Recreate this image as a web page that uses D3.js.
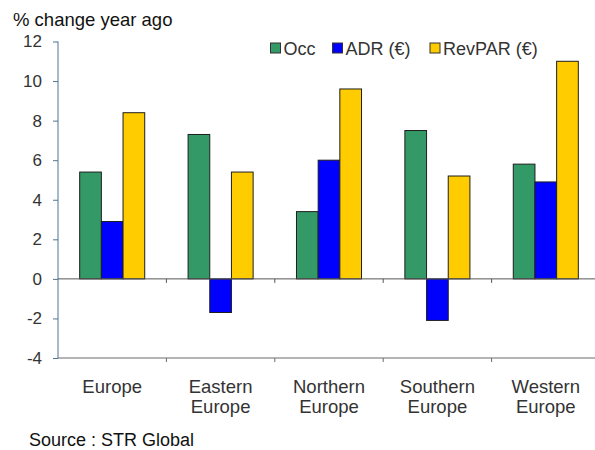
<!DOCTYPE html>
<html>
<head>
<meta charset="utf-8">
<script src="https://cdn.jsdelivr.net/npm/d3@7"></script>
<style>
  body { margin: 0; background: #fff; }
  svg text { font-family: "Liberation Sans", Arial, sans-serif; }
</style>
</head>
<body>
<script>
(function(){
  // data
  var regions = ["Europe", "Eastern Europe", "Northern Europe", "Southern Europe", "Western Europe"];
  var seriesNames = ["Occ", "ADR (€)", "RevPAR (€)"];
  var occ    = [5.4, 7.3, 3.4, 7.5, 5.8];
  var adr    = [2.9, -1.7, 6.0, -2.1, 4.9];
  var revpar = [8.4, 5.4, 9.6, 5.2, 11.0];
  var yTicks = [-4, -2, 0, 2, 4, 6, 8, 10, 12];
  var colors = ["#339966", "#0000ff", "#ffcc00"];

  var width = 595, height = 450;
  var left = 58, right = 600, top = 41.5, bottom = 358;

  var svg = d3.select("body").append("svg")
    .attr("width", width)
    .attr("height", height);

  // scales
  var x = d3.scaleBand()
    .domain(regions)
    .range([left, right])
    .paddingInner(0)
    .paddingOuter(0);

  // one bar width of gap on each side of a group
  var x1 = d3.scaleBand()
    .domain(seriesNames)
    .range([0, x.bandwidth()])
    .paddingInner(0)
    .paddingOuter(1);

  var y = d3.scaleLinear()
    .domain([-4, 12])
    .range([bottom, top]);

  var color = d3.scaleOrdinal().domain(seriesNames).range(colors);

  // rows for each region
  var rows = regions.map(function(r, i){
    return { region: r, values: [occ[i], adr[i], revpar[i]] };
  });

  // y axis
  var yAxis = svg.append("g")
    .attr("transform", "translate(" + left + ",0)")
    .call(d3.axisLeft(y).tickValues(yTicks).tickSize(5).tickPadding(11).tickFormat(d3.format("d")));
  yAxis.select(".domain").attr("stroke", "#4f7594").attr("d", "M0," + y(12) + "V" + y(-4));
  yAxis.selectAll(".tick line").attr("stroke", "#4f7594");
  yAxis.selectAll(".tick text")
    .attr("fill", "#333")
    .style("font-size", "17px")
    .text(function(d){ return d < 0 ? "-" + Math.abs(d) : d; });

  // bottom line at -4
  var xBottom = svg.append("g")
    .attr("transform", "translate(0," + y(-4) + ")")
    .call(d3.axisBottom(x).tickSize(0).tickFormat(""));
  xBottom.select(".domain").attr("stroke", "#6b6b6b").attr("d", "M" + left + ",0H" + right);
  xBottom.selectAll(".tick").remove();
  xBottom.selectAll(".sep")
    .data(regions.slice(1))
    .enter()
    .append("line")
    .attr("class", "sep")
    .attr("x1", function(d){ return x(d); })
    .attr("x2", function(d){ return x(d); })
    .attr("y1", 0)
    .attr("y2", 4)
    .attr("stroke", "#6b6b6b");

  // bars
  var groups = svg.selectAll(".grp")
    .data(rows)
    .enter()
    .append("g")
    .attr("class", "grp")
    .attr("transform", function(d){ return "translate(" + x(d.region) + ",0)"; });

  groups.selectAll("rect")
    .data(function(d){
      return d.values.map(function(v, i){ return { key: seriesNames[i], value: v }; });
    })
    .enter()
    .append("rect")
    .attr("x", function(d){ return x1(d.key); })
    .attr("width", x1.bandwidth())
    .attr("y", function(d){ return y(Math.max(0, d.value)); })
    .attr("height", function(d){ return Math.abs(y(d.value) - y(0)); })
    .attr("fill", function(d){ return color(d.key); })
    .attr("stroke", "#1e1e1e")
    .attr("stroke-width", 1);

  // zero line with separator ticks
  var xZero = svg.append("g")
    .attr("transform", "translate(0," + y(0) + ")");
  xZero.append("line")
    .attr("x1", left).attr("x2", right)
    .attr("y1", 0).attr("y2", 0)
    .attr("stroke", "#555");
  xZero.selectAll(".sep")
    .data(regions.slice(1))
    .enter()
    .append("line")
    .attr("class", "sep")
    .attr("x1", function(d){ return x(d); })
    .attr("x2", function(d){ return x(d); })
    .attr("y1", 0)
    .attr("y2", 4)
    .attr("stroke", "#555");

  // category labels (two lines)
  var labels = svg.selectAll(".cat")
    .data(regions)
    .enter()
    .append("text")
    .attr("class", "cat")
    .attr("text-anchor", "middle")
    .attr("fill", "#333")
    .style("font-size", "18.5px")
    .attr("x", function(d){ return x(d) + x.bandwidth() / 2; })
    .attr("y", 392.5);
  labels.each(function(d){
    var parts = d.split(" ");
    var t = d3.select(this);
    parts.forEach(function(p, i){
      t.append("tspan")
        .attr("x", x(d) + x.bandwidth() / 2)
        .attr("dy", i === 0 ? 0 : 20)
        .text(p);
    });
  });

  // axis title
  svg.append("text")
    .attr("x", 13)
    .attr("y", 26)
    .attr("fill", "#111")
    .style("font-size", "18.5px")
    .text("% change year ago");

  // legend
  var legendX = [270.5, 332.5, 430];
  var legend = svg.selectAll(".legend")
    .data(seriesNames)
    .enter()
    .append("g")
    .attr("class", "legend")
    .attr("transform", function(d, i){ return "translate(" + legendX[i] + ",43)"; });
  legend.append("rect")
    .attr("width", 10)
    .attr("height", 10)
    .attr("fill", function(d){ return color(d); })
    .attr("stroke", "#333");
  legend.append("text")
    .attr("x", 13)
    .attr("y", 11.5)
    .attr("fill", "#333")
    .style("font-size", "18px")
    .text(function(d){ return d; });

  // source
  svg.append("text")
    .attr("x", 29)
    .attr("y", 446)
    .attr("fill", "#111")
    .style("font-size", "18px")
    .text("Source : STR Global");
})();
</script>
</body>
</html>
